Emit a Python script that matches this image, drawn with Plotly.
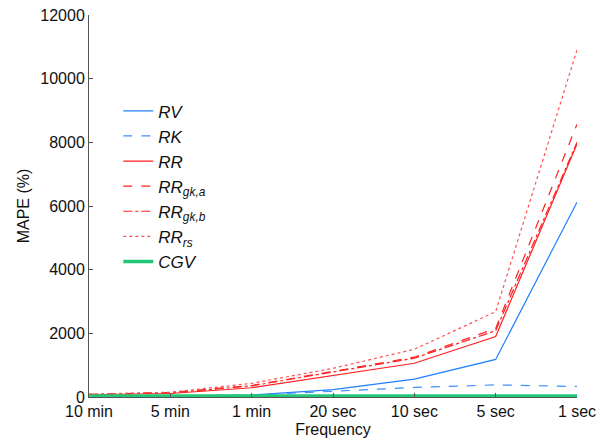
import plotly.graph_objects as go

categories = ['10 min', '5 min', '1 min', '20 sec', '10 sec', '5 sec', '1 sec']
rv = [15, 40, 60, 230, 560, 1180, 6120]
rk = [10, 30, 60, 180, 300, 380, 330]
rr = [70, 110, 290, 680, 1060, 1900, 7950]
rr_gka = [80, 140, 360, 800, 1250, 2150, 8570]
rr_gkb = [80, 130, 350, 780, 1220, 2080, 8000]
rr_rs = [90, 150, 430, 900, 1500, 2680, 10900]
cgv = [30, 30, 30, 30, 30, 30, 30]
ytick_vals = [0, 2000, 4000, 6000, 8000, 10000, 12000]
ytick_text = ['0', '2000', '4000', '6000', '8000', '10000', '12000']

series = [
    ('<i>RV</i>', rv, '#1f80ff', 'solid', 1.2),
    ('<i>RK</i>', rk, '#3a90ff', 'dash', 1.2),
    ('<i>RR</i>', rr, '#ff2020', 'solid', 1.2),
    ('<i>RR<sub>gk,a</sub></i>', rr_gka, '#ff2020', 'dash', 1.2),
    ('<i>RR<sub>gk,b</sub></i>', rr_gkb, '#ff2020', 'dashdot', 1.2),
    ('<i>RR<sub>rs</sub></i>', rr_rs, '#ff5050', 'dot', 1.2),
    ('<i>CGV</i>', cgv, '#20c878', 'solid', 3.5),
]

fig = go.Figure()
for name, vals, color, dash, w in series:
    fig.add_trace(go.Scatter(x=categories, y=vals, mode='lines', name=name,
                             line=dict(color=color, dash=dash, width=w)))

font = dict(family='Liberation Sans, Arial, sans-serif', size=16, color='#111')
fig.update_layout(
    width=600, height=445,
    margin=dict(l=89, r=23, t=15, b=48),
    plot_bgcolor='white', paper_bgcolor='white',
    font=font,
    showlegend=True,
    legend=dict(x=0.06, y=0.795, xanchor='left', yanchor='top',
                bgcolor='rgba(0,0,0,0)', font=dict(size=17, family='Liberation Sans, Arial, sans-serif', color='#111'),
                itemwidth=30, tracegroupgap=0),
    xaxis=dict(type='category', range=[0, 6], showgrid=False, zeroline=False,
               showline=True, linecolor='#555', linewidth=1, automargin=False,
               ticks='inside', ticklen=4, tickcolor='#555',
               title=dict(text='Frequency', standoff=4, font=dict(size=16)),
               tickfont=dict(size=16)),
    yaxis=dict(range=[0, 12000], showgrid=False, zeroline=False,
               showline=True, linecolor='#555', linewidth=1, automargin=False,
               ticks='inside', ticklen=4, tickcolor='#555',
               tickvals=ytick_vals, ticktext=ytick_text,
               title=dict(text='MAPE (%)', standoff=6, font=dict(size=16)),
               tickfont=dict(size=16)),
)
fig.write_html('out.html')
